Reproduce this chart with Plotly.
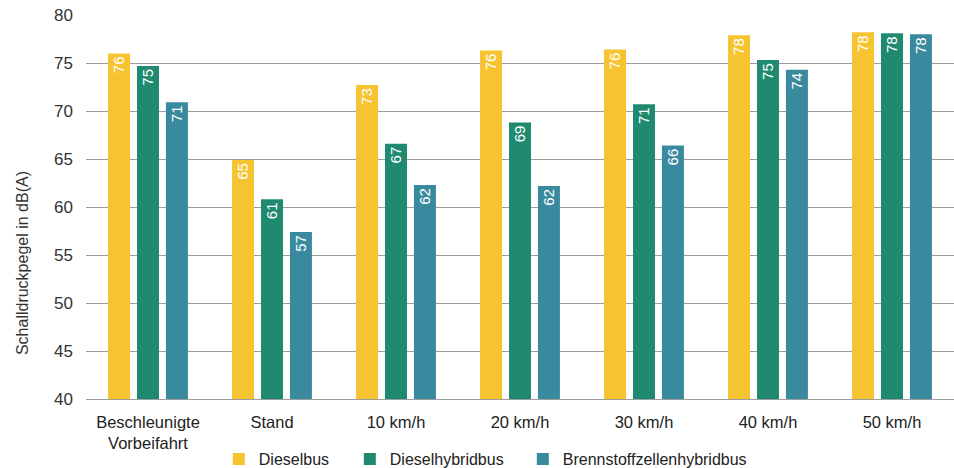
import plotly.graph_objects as go

categories = ["Beschleunigte<br>Vorbeifahrt", "Stand", "10 km/h", "20 km/h",
              "30 km/h", "40 km/h", "50 km/h"]
dieselbus = [76.0, 64.9, 72.7, 76.3, 76.4, 77.9, 78.2]
dieselhybridbus = [74.7, 60.8, 66.6, 68.8, 70.7, 75.3, 78.1]
brennstoffzellenhybridbus = [70.9, 57.4, 62.3, 62.2, 66.4, 74.3, 78.0]

# name, values, colour, legend entry width (px)
series = [
    ("Dieselbus", dieselbus, "#F6C431", 86),
    ("Dieselhybridbus", dieselhybridbus, "#1F8A70", 128),
    ("Brennstoffzellenhybridbus", brennstoffzellenhybridbus, "#3A8A9F", 200),
]

FONT = "Liberation Sans"

fig = go.Figure()
for name, vals, color, lw in series:
    fig.add_trace(go.Bar(
        name=name, x=categories, y=vals,
        marker=dict(color=color, line=dict(width=0)),
        text=vals, texttemplate="%{y:.0f}",
        textposition="inside", insidetextanchor="end", textangle=-90,
        textfont=dict(color="white", size=16, family=FONT),
        legendwidth=lw,
    ))

fig.update_layout(
    width=954, height=468,
    margin=dict(l=86, r=0, t=15, b=69, autoexpand=False),
    paper_bgcolor="white", plot_bgcolor="white",
    font=dict(family=FONT, size=16, color="#333333"),
    barmode="group", bargap=0.30, bargroupgap=0.24,
    showlegend=True,
    legend=dict(orientation="h", xref="paper", x=0.153, xanchor="left",
                yref="container", y=0.019, yanchor="middle",
                font=dict(size=16, color="#222222"),
                itemwidth=30, traceorder="normal"),
    uniformtext=dict(minsize=10, mode="show"),
    annotations=[dict(
        text="Schalldruckpegel in dB(A)", textangle=-90,
        xref="paper", x=-0.0737, xanchor="center",
        yref="paper", y=0.354, yanchor="middle",
        showarrow=False, font=dict(size=16, color="#333333"),
    )],
)
fig.update_yaxes(
    range=[40, 80], dtick=5, showgrid=True, gridcolor="#9e9e9e",
    gridwidth=1, zeroline=False, showline=False, ticks="",
    ticklabelstandoff=12, automargin=False,
    tickfont=dict(size=17, color="#333333"),
)
fig.update_xaxes(
    showline=True, linecolor="#9e9e9e", linewidth=1, ticks="",
    ticklabelstandoff=8, automargin=False,
    tickfont=dict(size=16.5, color="#222222"),
)

fig.write_html("out.html")
